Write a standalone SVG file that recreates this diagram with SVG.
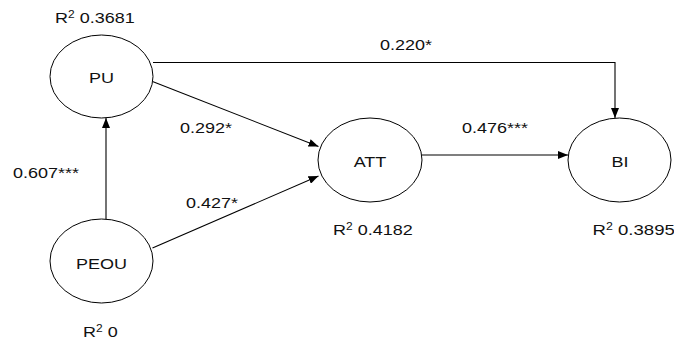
<svg xmlns="http://www.w3.org/2000/svg" width="674" height="342" viewBox="0 0 674 342">
  <defs>
    <marker id="arrow" viewBox="0 0 10 8" refX="10" refY="4" markerWidth="10" markerHeight="8" markerUnits="userSpaceOnUse" orient="auto">
      <path d="M0,0 L10,4 L0,8 Z" fill="#000"/>
    </marker>
    <style>
      .node ellipse { fill: #fff; stroke: #000; stroke-width: 1; }
      .edge { fill: none; stroke: #000; stroke-width: 1.1; marker-end: url(#arrow); }
      text { font-family: "Liberation Sans", Arial, sans-serif; font-size: 15px; fill: #111; }
      .mid { text-anchor: middle; }
      .sup { font-size: 10px; }
    </style>
  </defs>
  <rect width="674" height="342" fill="#fff"/>

  <!-- paths between constructs -->
  <g id="connectors">
    <path class="edge" d="M153,62.5 H615 V118"/>
    <path class="edge" d="M152.5,81.5 L318.5,146.5"/>
    <path class="edge" d="M421.5,155 H568"/>
    <path class="edge" d="M106,219 V118"/>
    <path class="edge" d="M152.5,248 L318.5,176"/>
  </g>

  <!-- path coefficients -->
  <g id="coefficients">
    <text class="mid" transform="translate(406,50) scale(1.2,1)">0.220*</text>
    <text class="mid" transform="translate(206,133) scale(1.2,1)">0.292*</text>
    <text class="mid" transform="translate(495,132.5) scale(1.2,1)">0.476***</text>
    <text class="mid" transform="translate(46,178) scale(1.2,1)">0.607***</text>
    <text class="mid" transform="translate(212,207.5) scale(1.2,1)">0.427*</text>
  </g>

  <g id="PU" class="node">
    <ellipse cx="101.5" cy="76.5" rx="51.5" ry="41.5"/>
    <text class="mid" transform="translate(101.5,83) scale(1.2,1)">PU</text>
    <text transform="translate(55,23) scale(1.2,1)">R<tspan class="sup" dy="-5">2</tspan><tspan dy="5"> 0.3681</tspan></text>
  </g>

  <g id="PEOU" class="node">
    <ellipse cx="101.5" cy="261" rx="51.5" ry="42"/>
    <text class="mid" transform="translate(101.5,269) scale(1.2,1)">PEOU</text>
    <text transform="translate(83,336.5) scale(1.2,1)">R<tspan class="sup" dy="-5">2</tspan><tspan dy="5"> 0</tspan></text>
  </g>

  <g id="ATT" class="node">
    <ellipse cx="370" cy="160" rx="52" ry="42"/>
    <text class="mid" transform="translate(370,166.5) scale(1.2,1)">ATT</text>
    <text transform="translate(333,235) scale(1.2,1)">R<tspan class="sup" dy="-5">2</tspan><tspan dy="5"> 0.4182</tspan></text>
  </g>

  <g id="BI" class="node">
    <ellipse cx="619.5" cy="160" rx="51.5" ry="42"/>
    <text class="mid" transform="translate(620,166.5) scale(1.2,1)">BI</text>
    <text transform="translate(592.5,235) scale(1.24,1)">R<tspan class="sup" dy="-5">2</tspan><tspan dy="5"> 0.3895</tspan></text>
  </g>
</svg>
